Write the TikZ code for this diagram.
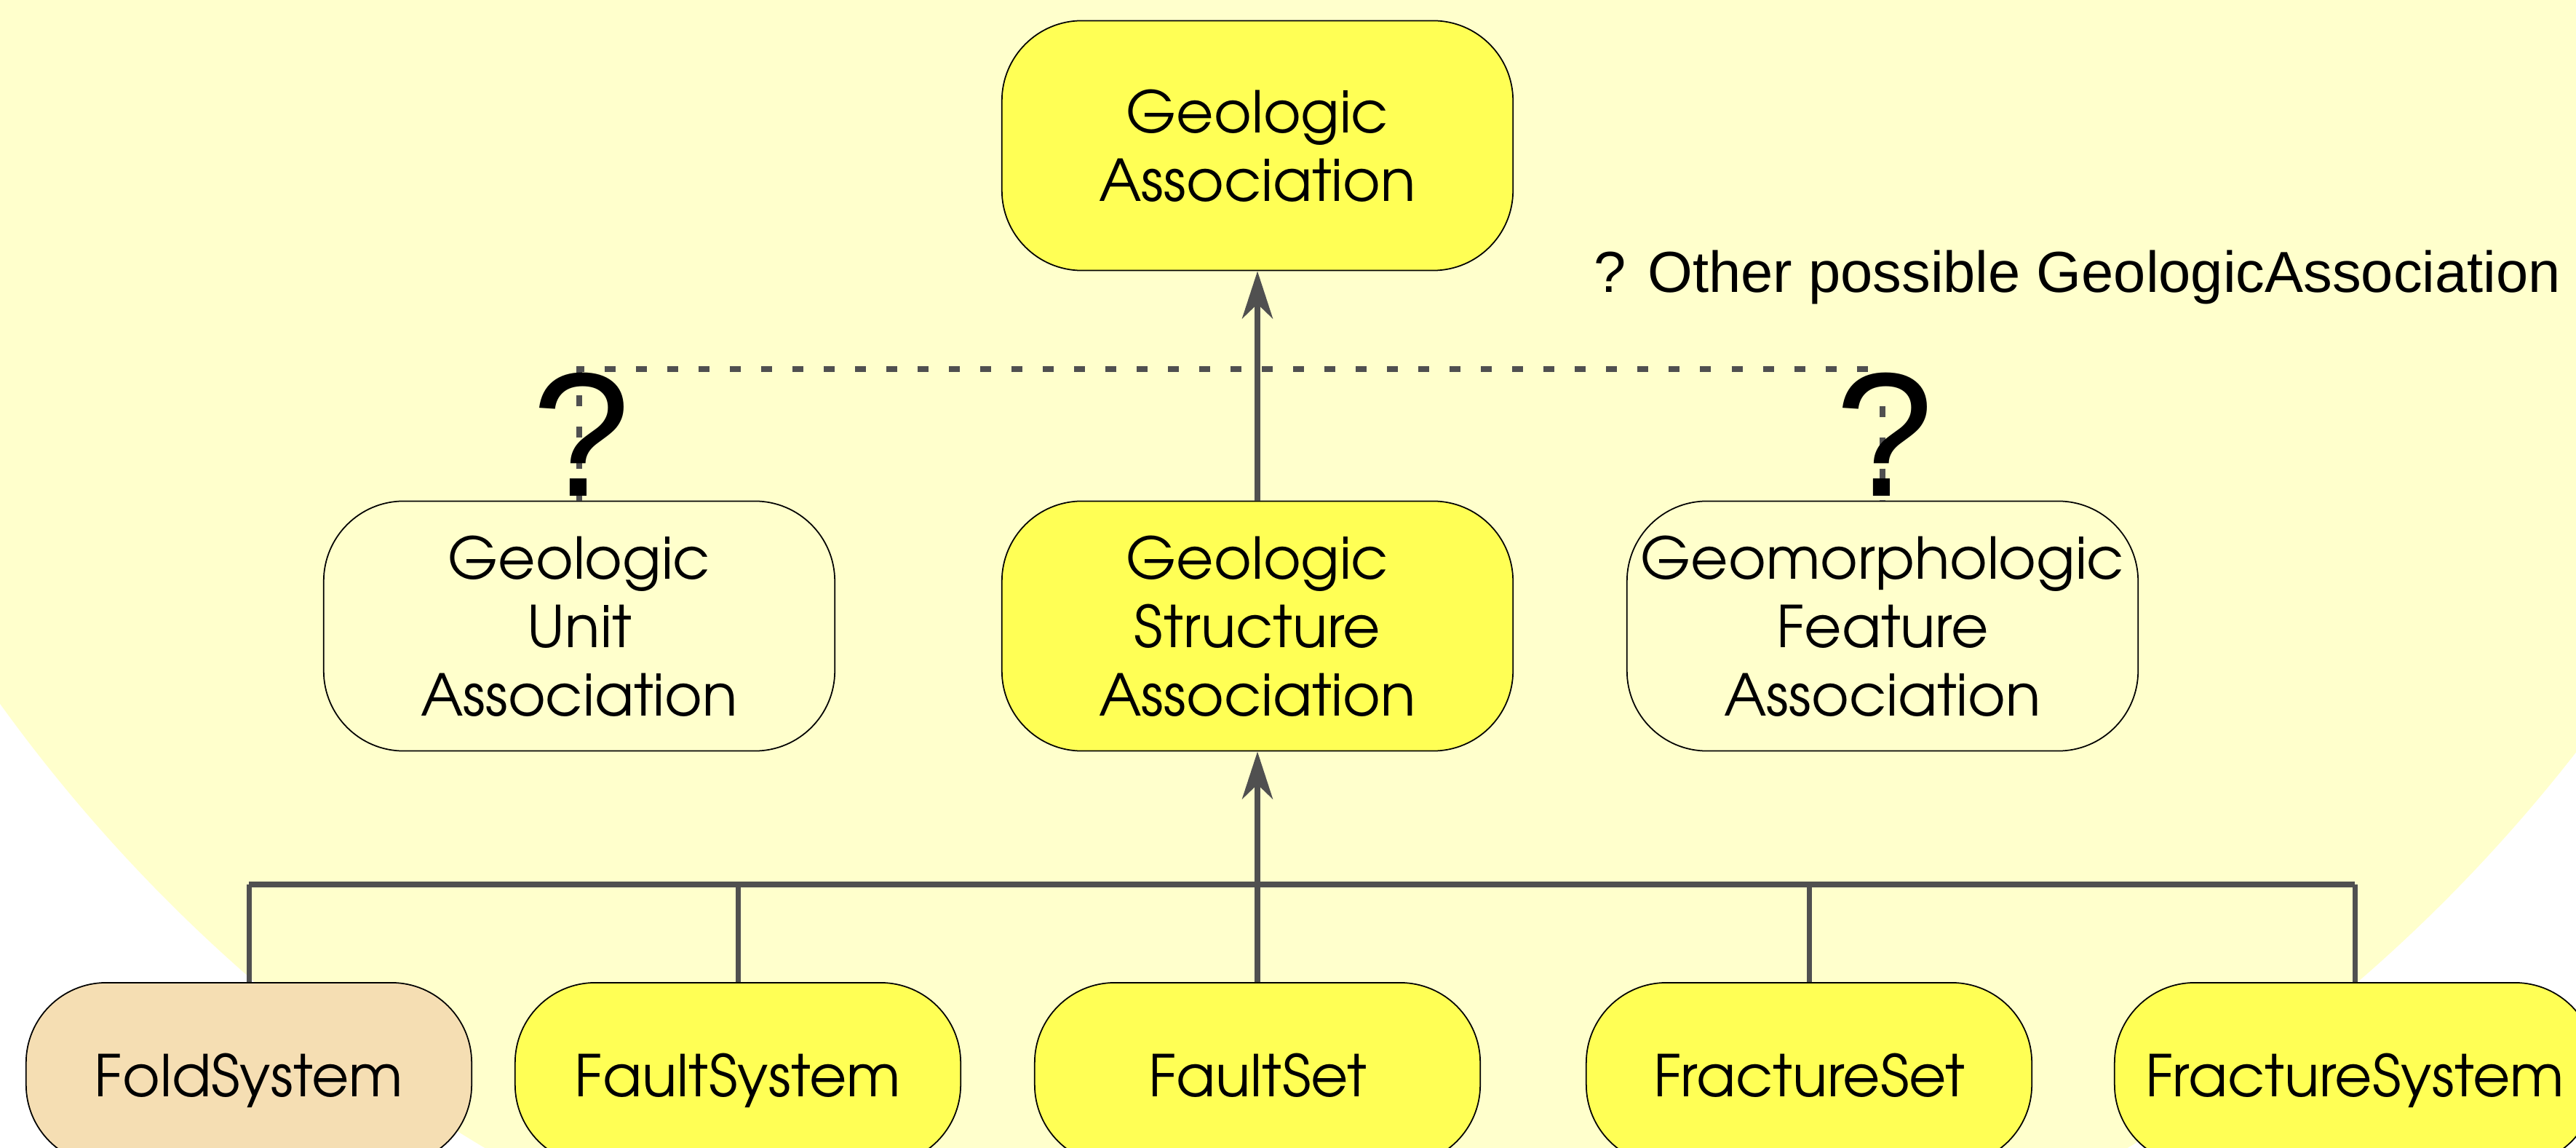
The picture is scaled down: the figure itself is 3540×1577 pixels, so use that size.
\documentclass[tikz,border=0pt]{standalone}
\usepackage{fontspec}
\setmainfont{Liberation Sans}
\newfontfamily\gothic{TeX Gyre Adventor}
\usetikzlibrary{arrows.meta}
\definecolor{bgyel}{HTML}{FFFFCC}
\definecolor{nodeyel}{HTML}{FFFF55}
\definecolor{wheatfill}{HTML}{F5DEB3}
\definecolor{linegray}{HTML}{505050}
\begin{document}
\begin{tikzpicture}[x=0.01cm,y=-0.01cm,
  box/.style={draw=black,line width=0.5pt,rounded corners=1.1cm,
    minimum width=7.02cm,minimum height=3.43cm,inner sep=0pt,align=center,
    font=\gothic\fontsize{22.5}{26.7}\selectfont},
  leaf/.style={box,minimum width=6.12cm,minimum height=2.5cm,
    text height=0.78cm,text depth=0.16cm},
  stemline/.style={draw=linegray,line width=0.07cm},
  busline/.style={draw=linegray,line width=0.08cm},
  arrowline/.style={draw=linegray,line width=0.08cm,
    -{Stealth[length=0.65cm,width=0.42cm,inset=0.2cm]}},
  dashline/.style={draw=linegray,line width=0.08cm,dash pattern=on 0.15cm off 0.28cm},
  qmark/.style={font=\fontsize{69}{69}\selectfont,inner sep=0pt,anchor=base},
  note/.style={font=\fontsize{22.6}{26}\selectfont,inner sep=0pt,anchor=base west}]
\useasboundingbox (0,0) rectangle (3540,1577);
\fill[white] (0,0) rectangle (3540,1577);
\clip (0,0) rectangle (3540,1577);
\fill[bgyel] (1795,-325) circle [radius=22.1cm];

% nodes
\node[box,fill=nodeyel] (ga) at (1728,200) {Geologic\\Association};
\node[box,fill=bgyel] (gua) at (796,860) {Geologic\\Unit\\Association};
\node[box,fill=nodeyel] (gsa) at (1728,860) {Geologic\\Structure\\Association};
\node[box,fill=bgyel] (gfa) at (2587,860) {Geomorphologic\\Feature\\Association};

\node[leaf,fill=wheatfill] (fold) at (342,1475) {FoldSystem};
\node[leaf,fill=nodeyel] (fsys) at (1014,1475) {FaultSystem};
\node[leaf,fill=nodeyel] (fset) at (1728,1475) {FaultSet};
\node[leaf,fill=nodeyel] (frset) at (2486,1475) {FractureSet};
\node[leaf,fill=nodeyel,minimum width=6.6cm] (frsys) at (3236,1475) {FractureSystem};

\coordinate (bus) at (0,1215);
\coordinate (dl) at (0,507);

% dashed association line
\draw[dashline] (gua.north) -- (gua.north |- dl) -- (gfa.north |- dl) -- (gfa.north);

% question marks
\node[qmark] (q1) at (799,682) {?};
\node[qmark] (q2) at (2590,682) {?};

\node[note] (lbl) at (2190,402) {? Other possible GeologicAssociation};

% tree connectors
\foreach \n in {fold,fsys,frset,frsys}
  \draw[stemline] (\n.north) -- (\n.north |- bus);
\draw[busline] (fold.north |- bus) -- (frsys.north |- bus);
\draw[arrowline] (fset.north) -- (gsa.south);
\draw[arrowline] (gsa.north) -- (ga.south);
\end{tikzpicture}
\end{document}
